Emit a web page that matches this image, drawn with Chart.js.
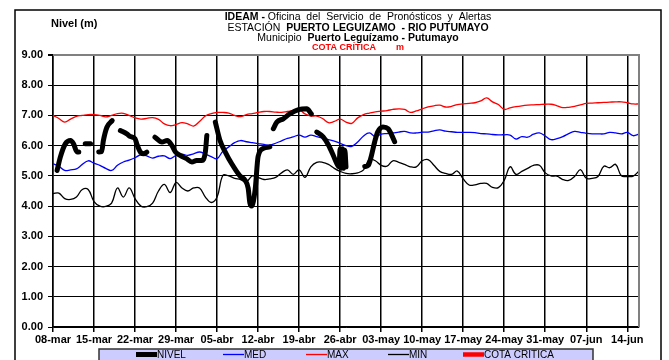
<!DOCTYPE html>
<html>
<head>
<meta charset="utf-8">
<script src="https://cdn.jsdelivr.net/npm/chart.js@4.4.0/dist/chart.umd.min.js"></script>
<style>
html, body { margin: 0; padding: 0; background: #fff; }
</style>
</head>
<body>
<canvas id="grafica" width="669" height="360"></canvas>
<script>
// etiquetas semanales del eje x (dia 0 = 08-mar, cada 7 dias)
const etiquetasX = ["08-mar","15-mar","22-mar","29-mar","05-abr","12-abr","19-abr","26-abr","03-may","10-may","17-may","24-may","31-may","07-jun","14-jun"];
const ticksY = [0,1,2,3,4,5,6,7,8,9];

// valores diarios historicos (dia 0 .. 100)
const maxHist = [7.0,6.9,6.78,6.88,6.97,7.0,7.03,7.03,7.0,6.95,
  7.0,7.06,7.07,7.0,6.92,6.88,6.9,6.93,6.87,6.72,
  6.66,6.7,6.76,6.72,6.65,6.8,6.98,7.06,7.1,7.1,
  7.08,7.0,6.96,7.03,7.06,7.1,7.13,7.13,7.11,7.1,
  7.13,7.16,7.2,7.05,6.98,6.98,6.9,6.76,6.8,6.88,
  6.78,6.74,6.92,7.03,7.08,7.12,7.14,7.16,7.2,7.22,
  7.2,7.1,7.15,7.22,7.28,7.32,7.34,7.28,7.3,7.36,
  7.38,7.4,7.42,7.48,7.58,7.45,7.36,7.2,7.25,7.29,
  7.32,7.34,7.35,7.36,7.37,7.37,7.32,7.26,7.27,7.3,
  7.35,7.4,7.41,7.42,7.43,7.44,7.45,7.45,7.42,7.38,7.38];

const medHist = [5.4,5.32,5.18,5.2,5.23,5.38,5.5,5.42,5.35,5.25,
  5.18,5.35,5.46,5.52,5.6,5.7,5.66,5.59,5.65,5.66,
  5.57,5.68,5.72,5.68,5.73,5.79,5.72,5.64,5.57,5.82,
  5.96,6.1,6.17,6.13,6.1,6.07,6.04,6.02,6.08,6.16,
  6.24,6.29,6.35,6.28,6.35,6.3,6.25,6.2,6.15,6.08,
  6.0,5.98,6.12,6.32,6.42,6.3,6.38,6.4,6.42,6.45,
  6.47,6.42,6.42,6.45,6.45,6.49,6.52,6.48,6.46,6.44,
  6.44,6.44,6.43,6.4,6.39,6.37,6.36,6.36,6.35,6.22,
  6.3,6.28,6.38,6.42,6.32,6.2,6.23,6.3,6.4,6.47,
  6.44,6.41,6.39,6.39,6.39,6.44,6.42,6.39,6.44,6.33,6.38];

const minHist = [4.41,4.43,4.25,4.22,4.3,4.55,4.55,4.15,4.0,3.99,
  4.1,4.6,4.3,4.6,4.25,4.0,3.98,4.1,4.5,4.72,
  4.45,4.78,4.6,4.5,4.6,4.6,4.3,4.12,4.3,5.02,
  5.0,4.92,4.88,4.8,5.0,4.95,4.88,4.9,4.95,5.1,
  5.2,5.05,5.2,4.95,5.3,5.45,5.45,5.38,5.25,5.15,
  5.08,5.07,5.1,5.2,5.55,5.5,5.35,5.32,5.5,5.45,
  5.38,5.3,5.3,5.5,5.54,5.35,5.15,5.08,5.05,5.16,
  4.9,4.7,4.7,4.75,4.75,4.62,4.61,4.85,5.3,5.05,
  5.15,5.25,5.35,5.35,5.1,5.0,4.99,4.88,4.85,4.98,
  5.21,4.92,4.92,4.98,5.32,5.27,5.38,5.0,4.98,4.99,5.16];

// nivel observado (dia con fraccion); null = sin dato
const nivelDia = [0.7,1.25,2.1,3,3.5,4.1,4.4, 5,
  5.5,6.4, 7.1,
  7.8,8.3,8.6,9.2,10.1, 10.8,
  11.5,12.6,13.2,14,14.3,14.9,15.5,16, 16.7,
  17.4,18.6,19.5,20.3,20.9,21.7,22.8,23.7,24.5,25.4,26,26.25, 27,
  27.7,28.5,29.4,30.5,31.9,32.8,33.3,33.6,33.9,34.5,35,35.9,37, 37.3,
  37.6,38.2,39.3,40.4,41.9,43.3,44.1, 44.5,
  45,46.1,47,47.8,48.4,48.8,49,49.2,49.4,49.6,49.8,50, 51.5,
  53.2,53.8,54.3,54.9,55.4,56.3,57.2,57.8,58.3];
const nivelVal = [5.18,5.62,6.06,6.17,6.06,5.79,5.79, null,
  6.06,6.06, null,
  5.79,5.8,6.17,6.61,6.83, null,
  6.5,6.39,6.3,6.23,6.06,5.79,5.73,5.79, null,
  6.28,6.12,6.17,6.0,5.79,5.68,5.57,5.46,5.51,5.51,5.79,6.34, null,
  6.78,6.17,5.79,5.4,5.0,4.85,4.6,4.1,4.0,4.55,5.64,5.91,5.96, null,
  6.56,6.78,6.89,7.05,7.19,7.22,7.05, null,
  6.45,6.29,6.02,5.69,5.42,5.3,5.9,5.25,5.9,5.25,5.85,5.3, null,
  5.31,5.35,5.64,6.13,6.45,6.62,6.56,6.35,6.13];

const cotaCritica = [];

// posiciones x de cada entrada de la leyenda
const leyendaX = [136, 223, 306, 388, 463];

const fuente = "'Liberation Sans', Arial, sans-serif";

function comoPuntos(valores) {
  return valores.map((v, i) => ({ x: i, y: v }));
}

function textoMixto(ctx, partes, cx, y) {
  let total = 0;
  partes.forEach(p => { ctx.font = p[0]; total += ctx.measureText(p[1]).width; });
  let x = cx - total / 2;
  partes.forEach(p => {
    ctx.font = p[0];
    ctx.fillStyle = p[2] || '#000';
    ctx.fillText(p[1], x, y);
    x += ctx.measureText(p[1]).width;
  });
}

const marco = {
  id: 'marco',
  beforeDraw(chart) {
    const ctx = chart.ctx;
    ctx.save();
    ctx.fillStyle = '#fff';
    ctx.fillRect(0, 0, chart.width, chart.height);
    ctx.strokeStyle = '#000';
    ctx.lineWidth = 1.5;
    ctx.strokeRect(15, 10, 646, 360);
    ctx.restore();
  },
  afterDraw(chart) {
    const ctx = chart.ctx;
    const a = chart.chartArea;
    ctx.save();
    // borde gris del area de trazado
    ctx.strokeStyle = '#808080';
    ctx.lineWidth = 2;
    ctx.beginPath();
    ctx.moveTo(a.left, a.top);
    ctx.lineTo(a.right, a.top);
    ctx.lineTo(a.right, a.bottom);
    ctx.stroke();

    // titulos
    ctx.textBaseline = 'middle';
    ctx.textAlign = 'left';
    ctx.fillStyle = '#000';
    ctx.font = 'bold 11px ' + fuente;
    ctx.fillText('Nivel (m)', 51, 24);
    const cx = 358;
    textoMixto(ctx, [['bold 10.5px ' + fuente, 'IDEAM - '], ['10.5px ' + fuente, 'Oficina  del  Servicio  de  Pronósticos  y  Alertas']], cx, 17.5);
    textoMixto(ctx, [['10.5px ' + fuente, 'ESTACIÓN  '], ['bold 10.5px ' + fuente, 'PUERTO LEGUIZAMO  - RIO PUTUMAYO']], cx, 28);
    textoMixto(ctx, [['10.5px ' + fuente, 'Municipio  '], ['bold 10.5px ' + fuente, 'Puerto Leguízamo - Putumayo']], cx, 38.5);
    textoMixto(ctx, [['bold 9px ' + fuente, 'COTA CRÍTICA        m', '#ff0000']], cx, 48);

    // leyenda
    ctx.fillStyle = '#ccccff';
    ctx.fillRect(99, 349, 494, 20);
    ctx.strokeStyle = '#333';
    ctx.lineWidth = 1.5;
    ctx.strokeRect(99, 349, 494, 20);
    chart.data.datasets.forEach((ds, i) => {
      const x0 = leyendaX[i];
      ctx.strokeStyle = ds.borderColor;
      ctx.lineWidth = ds.borderWidth;
      ctx.lineCap = 'butt';
      ctx.beginPath();
      ctx.moveTo(x0, 354.5);
      ctx.lineTo(x0 + 21, 354.5);
      ctx.stroke();
      ctx.fillStyle = '#000';
      ctx.font = '10px ' + fuente;
      ctx.fillText(ds.label, x0 + 21, 355);
    });
    ctx.restore();
  }
};

new Chart(document.getElementById('grafica'), {
  type: 'line',
  data: {
    datasets: [
      { label: 'NIVEL', data: nivelDia.map((d, i) => ({ x: d, y: nivelVal[i] })),
        borderColor: '#000', borderWidth: 5, cubicInterpolationMode: 'monotone',
        borderCapStyle: 'round', borderJoinStyle: 'round', spanGaps: false, order: 0 },
      { label: 'MED', data: comoPuntos(medHist), borderColor: '#0000ff', borderWidth: 1.3, tension: 0.4, order: 1 },
      { label: 'MAX', data: comoPuntos(maxHist), borderColor: '#ff0000', borderWidth: 1.3, tension: 0.4, order: 2 },
      { label: 'MIN', data: comoPuntos(minHist), borderColor: '#000', borderWidth: 1.3, tension: 0.4, order: 3 },
      { label: 'COTA CRITICA', data: cotaCritica, borderColor: '#ff0000', borderWidth: 4.5, order: 4 }
    ]
  },
  options: {
    responsive: false,
    animation: false,
    devicePixelRatio: 1,
    elements: { point: { radius: 0, hoverRadius: 0 } },
    layout: { padding: { left: 0, top: 55, right: 30, bottom: 0 } },
    plugins: { legend: { display: false }, tooltip: { enabled: false }, title: { display: false } },
    scales: {
      x: {
        type: 'linear',
        min: 0,
        max: 100,
        afterBuildTicks: (scale) => { scale.ticks = etiquetasX.map((t, i) => ({ value: i * 7 })); },
        afterFit: (scale) => { scale.height = 33; },
        ticks: {
          autoSkip: false, maxRotation: 0, padding: 1, color: '#000',
          font: { family: fuente, size: 11, weight: 'bold' },
          callback: (v) => etiquetasX[Math.round(v / 7)]
        },
        grid: { color: '#000', lineWidth: 1.5, tickLength: 5, tickColor: '#000' },
        border: { color: '#000', width: 1.5 }
      },
      y: {
        min: 0,
        max: 9,
        afterBuildTicks: (scale) => { scale.ticks = ticksY.map(v => ({ value: v })); },
        afterFit: (scale) => { scale.width = 53; },
        ticks: {
          padding: 5, color: '#000',
          font: { family: fuente, size: 11, weight: 'bold' },
          callback: (v) => v.toFixed(2)
        },
        grid: {
          color: (c) => c.tick && c.tick.value === 9 ? '#808080' : '#000',
          lineWidth: (c) => c.tick && c.tick.value === 9 ? 2 : 1,
          tickLength: 5, tickColor: '#000'
        },
        border: { color: '#000', width: 1.5 }
      }
    }
  },
  plugins: [marco]
});
</script>
</body>
</html>
